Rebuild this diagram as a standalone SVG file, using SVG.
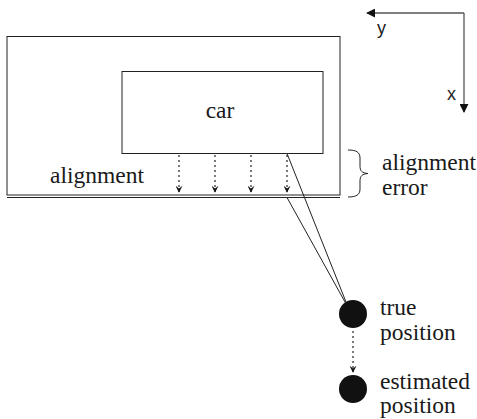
<svg xmlns="http://www.w3.org/2000/svg" width="477" height="419" viewBox="0 0 477 419">
<style>
.ln{fill:none;stroke:#222;stroke-width:1}
.dot{fill:none;stroke:#222;stroke-width:1.2;stroke-dasharray:2 3}
.ax{fill:none;stroke:#555;stroke-width:1.3}
</style>
<defs>
<marker id="ah" viewBox="0 0 10 10" refX="9" refY="5" markerWidth="7" markerHeight="7" orient="auto" markerUnits="userSpaceOnUse">
<path d="M0,0 L10,5 L0,10 L4,5 Z" fill="#111"/>
</marker>
<marker id="axh" viewBox="0 0 10 10" refX="9" refY="5" markerWidth="9" markerHeight="9" orient="auto" markerUnits="userSpaceOnUse">
<path d="M0,0 L10,5 L0,10 Z" fill="#111"/>
</marker>
</defs>
<g id="axes">
<path class="ax" d="M464,13 L367,13" marker-end="url(#axh)"/>
<path class="ax" d="M464,13 L464,112" marker-end="url(#axh)"/>
<text x="377" y="34" font-family="Liberation Sans" font-size="18" fill="#222">y</text>
<text x="447" y="100" font-family="Liberation Sans" font-size="18" fill="#222">x</text>
</g>
<g id="alignment">
<rect class="ln" x="7" y="36.5" width="333" height="158.5"/>
<line class="ln" x1="7" y1="197.5" x2="340" y2="197.5"/>
<text x="50" y="183" font-family="Liberation Serif" font-size="23.5" fill="#1a1a1a">alignment</text>
</g>
<g id="car">
<rect class="ln" x="122" y="71.5" width="201" height="82"/>
<text x="220" y="118" text-anchor="middle" font-family="Liberation Serif" font-size="23.5" fill="#1a1a1a">car</text>
</g>
<g id="alignment-error">
<path class="ln" d="M348,150 C356,150 360,152 360,158 L360,166 C360,171 362,173 368,173.5 C362,174 360,176 360,181 L360,189 C360,195 356,197 348,197"/>
<text x="382" y="170" font-family="Liberation Serif" font-size="23.5" fill="#1a1a1a">alignment</text>
<text x="382" y="195" font-family="Liberation Serif" font-size="23.5" fill="#1a1a1a">error</text>
</g>
<g id="true-position">
<circle cx="353" cy="314" r="14" fill="#111"/>
<text x="380" y="315" font-family="Liberation Serif" font-size="23.5" fill="#1a1a1a">true</text>
<text x="380" y="340" font-family="Liberation Serif" font-size="23.5" fill="#1a1a1a">position</text>
</g>
<g id="estimated-position">
<circle cx="353" cy="389" r="14" fill="#111"/>
<text x="380" y="389" font-family="Liberation Serif" font-size="23.5" fill="#1a1a1a">estimated</text>
<text x="380" y="413" font-family="Liberation Serif" font-size="23.5" fill="#1a1a1a">position</text>
</g>
<g id="connectors">
<line class="dot" x1="179" y1="155" x2="179" y2="192" marker-end="url(#ah)"/>
<line class="dot" x1="215" y1="155" x2="215" y2="192" marker-end="url(#ah)"/>
<line class="dot" x1="251" y1="155" x2="251" y2="192" marker-end="url(#ah)"/>
<line class="dot" x1="287" y1="155" x2="287" y2="192" marker-end="url(#ah)"/>
<line class="ln" x1="287" y1="153.5" x2="346" y2="302"/>
<line class="ln" x1="287" y1="197.5" x2="345" y2="302"/>
<line class="dot" x1="353" y1="331" x2="353" y2="372" marker-end="url(#ah)"/>
</g>
</svg>
